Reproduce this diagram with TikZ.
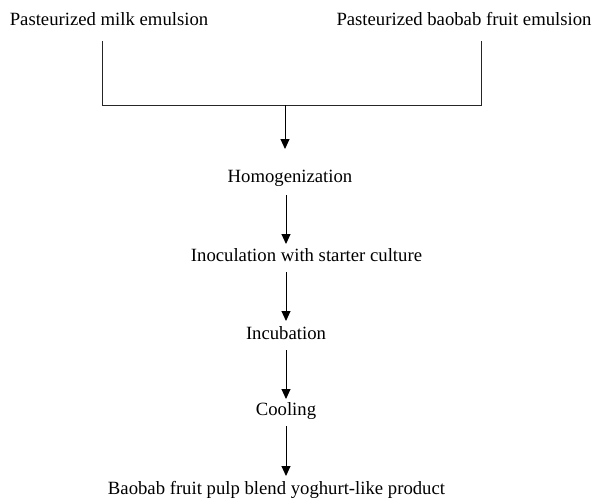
\documentclass[tikz,border=0pt]{standalone}
\usepackage{fontspec}
\setmainfont{Liberation Serif}
\usetikzlibrary{arrows.meta}
\begin{document}
\begin{tikzpicture}[x=1pt,y=-1pt,
  lbl/.style={inner sep=0pt,font=\fontsize{18.7}{22}\selectfont},
  conn/.style={draw=black!85,line width=1pt},
  arr/.style={draw=black,line width=1pt,-{Triangle[length=10pt,width=9pt]}}]
\useasboundingbox (0,0) rectangle (592,499);
\node[lbl] (milk) at (109,19) {Pasteurized milk emulsion};
\node[lbl] (baob) at (464,19) {Pasteurized baobab fruit emulsion};
\node[lbl] (homo) at (290,178) {Homogenization};
\node[lbl] (inoc) at (306.5,255) {Inoculation with starter culture};
\node[lbl] (incu) at (286,333) {Incubation};
\node[lbl] (cool) at (286,411) {Cooling};
\node[lbl] (prod) at (276.5,490) {Baobab fruit pulp blend yoghurt-like product};
\coordinate (l1) at (102,41);
\coordinate (l2) at (102,105);
\coordinate (r1) at (481,41);
\coordinate (r2) at (481,105);
\coordinate (m) at (285,105);
\draw[conn] (l1) -- (l2) -- (r2) -- (r1);
\draw[arr] (m) -- (285,149);
\draw[arr] (286,195) -- (286,244);
\draw[arr] (286,272) -- (286,321);
\draw[arr] (286,350) -- (286,399);
\draw[arr] (286,426) -- (286,476);
\end{tikzpicture}
\end{document}
